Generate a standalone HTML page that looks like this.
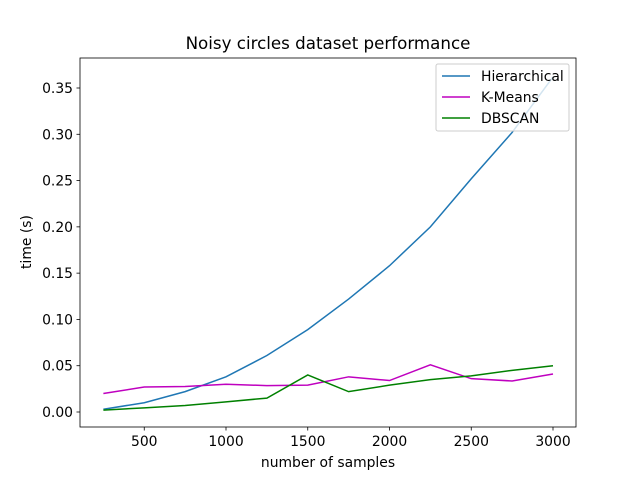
<!DOCTYPE html>
<html><head><meta charset="utf-8"><style>
body{margin:0;background:#fff}
svg{font-family:"DejaVu Sans","Liberation Sans",sans-serif}
</style></head><body>
<svg id="chart" width="640" height="480">
<rect width="640" height="480" fill="#fff"/>
<text x="328" y="49" text-anchor="middle" font-size="16.7">Noisy circles dataset performance</text>
<g id="ticks"></g>
<g id="lines"></g>
<rect x="80" y="58" width="496" height="369" fill="none" stroke="#000" stroke-width="0.8"/>
<text x="328" y="467" text-anchor="middle" font-size="13.9">number of samples</text>
<text transform="translate(31,242) rotate(-90)" text-anchor="middle" font-size="13.9">time (s)</text>
<g id="legend">
<rect x="436" y="64" width="133" height="67" fill="#fff" fill-opacity="0.8" stroke="#ccc" rx="2"/>
</g>
</svg>
<script>
const samples=[250,500,750,1000,1250,1500,1750,2000,2250,2500,2750,3000];
const hierarchical=[0.003,0.010,0.022,0.038,0.061,0.089,0.122,0.158,0.200,0.252,0.302,0.362];
const kmeans=[0.020,0.027,0.0275,0.030,0.0285,0.029,0.038,0.034,0.051,0.036,0.0335,0.041];
const dbscan=[0.002,0.0045,0.007,0.011,0.015,0.040,0.022,0.029,0.035,0.039,0.045,0.050];
const xTicks=[500,1000,1500,2000,2500,3000];
const yTicks=[0,0.05,0.10,0.15,0.20,0.25,0.30,0.35];
const seriesNames=["Hierarchical","K-Means","DBSCAN"];
const NS="http://www.w3.org/2000/svg";
const xs=v=>226+(v-1000)*(553-226)/2000;
const ys=v=>412-v*(412-88)/0.35;
function mk(tag,attrs,parent){const e=document.createElementNS(NS,tag);for(const k in attrs)e.setAttribute(k,attrs[k]);parent.appendChild(e);return e;}
const tg=document.getElementById('ticks');
xTicks.forEach(t=>{
 const l=mk('line',{x1:xs(t),x2:xs(t),y1:427,y2:430.5,stroke:'#000','stroke-width':0.8},tg);
 
 
 const tx=mk('text',{x:xs(t),y:446,'text-anchor':'middle','font-size':13.9},tg);tx.textContent=t;
 
 
});
yTicks.forEach(t=>{
 const l=mk('line',{x1:76.5,x2:80,y1:ys(t),y2:ys(t),stroke:'#000','stroke-width':0.8},tg);
 
 
 const tx=mk('text',{x:73,y:ys(t)+5,'text-anchor':'end','font-size':13.9},tg);tx.textContent=t.toFixed(2);
 
 
});
const lg=document.getElementById('lines');
const colors=['#1f77b4','#bf00bf','#008000'];
[hierarchical,kmeans,dbscan].forEach((s,i)=>{
 const p=mk('polyline',{points:s.map((v,j)=>xs(samples[j])+','+ys(v)).join(' '),fill:'none',stroke:colors[i],'stroke-width':1.5},lg);
 
 
});
const leg=document.getElementById('legend');
seriesNames.forEach((n,i)=>{
 const y=76+i*21;
 const l=mk('line',{x1:442,x2:470,y1:y,y2:y,stroke:colors[i],'stroke-width':1.5},leg);
 
 
 const t=mk('text',{x:481,y:y+5,'font-size':13.9},leg);t.textContent=n;
 
 
});
</script>
</body></html>
